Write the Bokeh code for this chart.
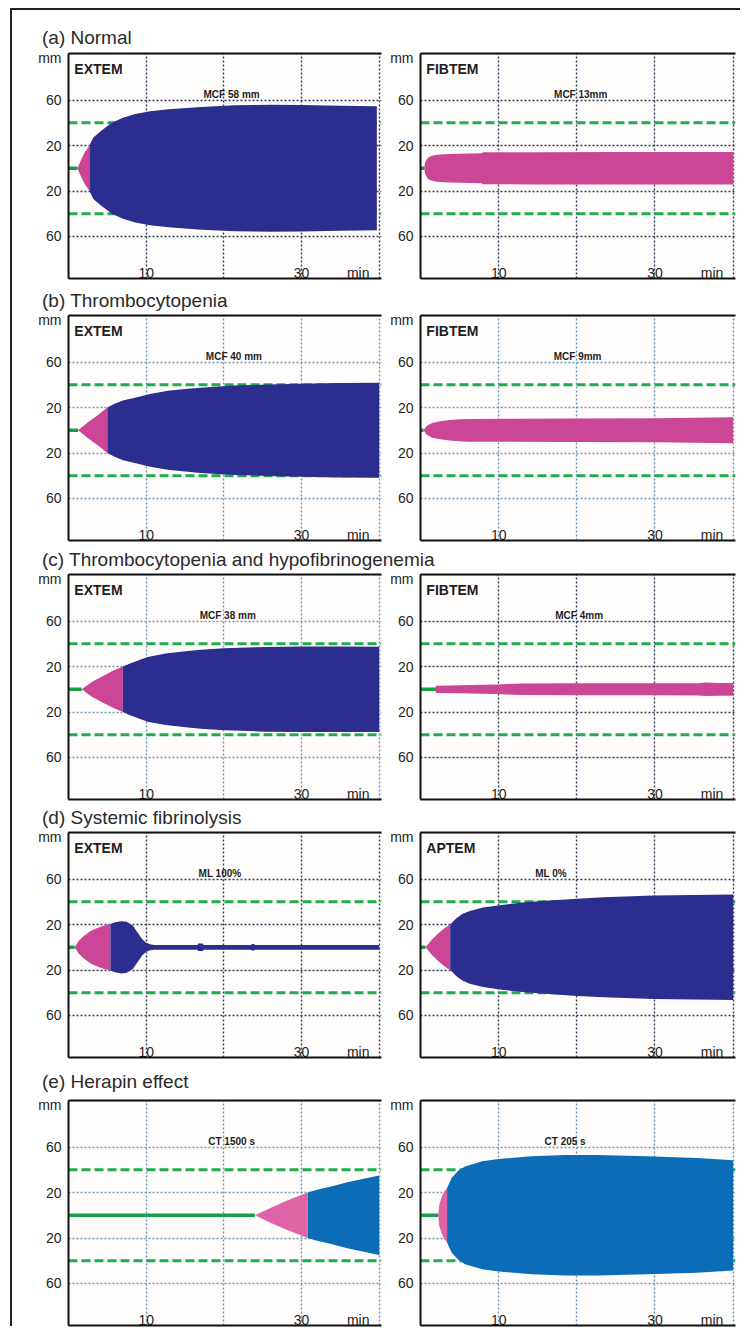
import numpy as np
from bokeh.plotting import figure
from bokeh.layouts import column, row
from bokeh.models import Range1d, FixedTicker, LinearAxis, Div, Spacer
from bokeh.core.properties import value
from bokeh.embed import file_html
from bokeh.resources import INLINE

# ---------------- data ----------------
row_titles = ["(a) Normal", "(b) Thrombocytopenia",
              "(c) Thrombocytopenia and hypofibrinogenemia",
              "(d) Systemic fibrinolysis", "(e) Herapin effect"]

y_ticks = [60, 20, -20, -60]
y_tick_labels = ["60", "20", "20", "60"]
y_unit_label = "mm"
x_grid_ticks = [10, 20, 30, 40]
x_tick_pos = [10, 30]
x_tick_labels = ["10", "30"]
x_unit_label = "min"
limit_lines = [40, -40]

# (a) Normal - EXTEM
a_ext_ct = 1.15
a_ext_pink_t = [1.15, 1.6, 2.1, 2.7]
a_ext_pink_a = [0, 7, 14, 20]
a_ext_blue_t = [2.7, 3.2, 4.3, 5.6, 7.0, 8.6, 10.5, 12.9, 17.1, 21.4, 26, 30, 35, 39.7]
a_ext_blue_a = [20, 27, 33.5, 40, 44.5, 47.7, 50.2, 52, 54, 55.4, 55.8, 55.6, 55, 54.5]
# (a) Normal - FIBTEM
a_fib_ct = 0.45
a_fib_pink_t = [0.45, 0.6, 0.8, 1.1, 1.5, 2.1, 3, 5, 7.8, 8.0, 15, 25, 40]
a_fib_pink_a = [0, 5, 8, 10, 11, 11.8, 12.3, 12.8, 13.2, 14, 14.2, 14.3, 14.3]

# (b) Thrombocytopenia - EXTEM
b_ext_ct = 1.25
b_ext_pink_t = [1.25, 2.5, 3.8, 5.0]
b_ext_pink_a = [0, 7, 13.5, 20]
b_ext_blue_t = [5.0, 6.0, 7.0, 8.4, 10.5, 12.8, 15, 17, 21.3, 25.6, 30, 35, 40]
b_ext_blue_a = [20, 23.5, 26.3, 28.5, 32, 34.7, 36.3, 37.5, 39.3, 40.2, 41, 41.5, 41.8]
# (b) FIBTEM
b_fib_ct = 0.4
b_fib_pink_t = [0.4, 0.8, 1.5, 2.5, 4, 6, 12, 20, 30, 35, 40]
b_fib_pink_a = [0, 4, 6.5, 8, 9.3, 10, 10.2, 10.3, 10.5, 11, 11.5]

# (c) EXTEM
c_ext_ct = 1.7
c_ext_pink_t = [1.7, 3.0, 4.5, 5.8, 7.0]
c_ext_pink_a = [0, 6.5, 12, 16.5, 20]
c_ext_blue_t = [7.0, 8.0, 10.2, 12.5, 14.5, 17, 20, 25.2, 30, 35, 40]
c_ext_blue_a = [20, 23, 28.5, 31.5, 33, 34.7, 36, 37.3, 37.7, 37.7, 37.5]
# (c) FIBTEM
c_fib_ct = 1.85
c_fib_pink_t = [1.85, 2.0, 5, 8, 10, 11, 13, 20, 30, 35.5, 36.5, 38, 40]
c_fib_pink_a = [0.8, 3.2, 3.6, 3.9, 4.1, 4.6, 5.0, 5.2, 5.3, 5.4, 6.0, 5.6, 5.6]

# (d) EXTEM (lysis)
d_ext_ct = 0.8
d_ext_pink_t = [0.8, 1.3, 1.9, 2.8, 3.7, 4.5, 5.4]
d_ext_pink_a = [0, 5.5, 9.5, 14, 17, 19, 20.5]
d_ext_blue_t = [5.4, 6.0, 6.8, 7.5, 8.3, 9.0, 9.5, 10.0, 10.5, 11.0, 16.6, 16.7, 17.3, 17.4,
                23.5, 23.6, 23.9, 24.0, 40]
d_ext_blue_a = [20.5, 22, 23, 22.5, 19, 12, 7, 4, 2.6, 2.1, 2.1, 3.3, 3.3, 2.1,
                2.1, 2.8, 2.8, 2.1, 2.1]
# (d) APTEM
d_apt_ct = 0.65
d_apt_pink_t = [0.65, 1.5, 2.4, 3.1, 3.8]
d_apt_pink_a = [0, 7, 13, 17, 20]
d_apt_blue_t = [3.8, 4.6, 5.4, 6.3, 8.0, 10.6, 13, 16, 20, 23.4, 29.8, 35, 40]
d_apt_blue_a = [20, 25.5, 29.5, 32, 35, 37.5, 39.3, 41, 42.8, 44, 45.5, 46, 46.5]

# (e) heparin - left
e_l_ct = 24
e_l_pink_t = [24, 26, 28, 30.8]
e_l_pink_a = [0, 6.5, 12.5, 20]
e_l_blue_t = [30.8, 32, 33.7, 35.9, 38, 40]
e_l_blue_a = [20, 22.5, 25, 29, 32.2, 35]
# (e) heparin - right
e_r_ct = 2.25
e_r_pink_t = [2.25, 2.4, 2.7, 3.0, 3.4]
e_r_pink_a = [0, 9, 16, 20.5, 24]
e_r_blue_t = [3.4, 4.0, 4.8, 5.7, 7.9, 10, 14.2, 18.5, 22.7, 29, 35.4, 40]
e_r_blue_a = [24, 33, 39, 43, 47.5, 49.5, 52, 53, 53, 52, 50.5, 48.5]

# ---------------- style ----------------
FONT = "Liberation Sans"
GREEN = "#17a04a"
DGREEN = "#22aa4e"
NAVY = "#2c2e8f"
BLUE_E = "#0b6db8"
PINK = "#cb4697"
PINK_E = "#e063a6"
GRID_DARK = "#2f3d57"
GRID_LIGHT = "#6f92b2"
INK = "#1e1e1e"

LEFT_W, RIGHT_W = 372, 354
PANEL_H = 233
Y_LO, Y_HI = -97, 101
X_HI = 40.3


def panel(side, name, note, note_x, ct, pink_t, pink_a, blue_t, blue_a,
          grid_color, blue_color=NAVY, pink_color=PINK):
    left = side == "left"
    p = figure(width=LEFT_W if left else RIGHT_W, height=PANEL_H,
               x_range=Range1d(0, X_HI), y_range=Range1d(Y_LO, Y_HI),
               output_backend="svg", toolbar_location=None,
               min_border_left=56 if left else 36, min_border_right=3,
               min_border_top=4, min_border_bottom=4)
    p.background_fill_color = "#fffdfc"
    p.border_fill_color = "white"
    p.outline_line_color = None

    xa = p.xaxis[0]
    xa.ticker = FixedTicker(ticks=[])
    xa.major_label_standoff = 0
    xa.major_tick_out = 0
    xa.major_tick_in = 0
    xa.minor_tick_out = 0
    xa.minor_tick_in = 0
    xa.axis_line_width = 2
    xa.axis_line_color = "#111111"
    p.xgrid[0].ticker = FixedTicker(ticks=x_grid_ticks)

    unit_tick = Y_HI - 0.1
    ya = p.yaxis[0]
    ya.ticker = FixedTicker(ticks=[unit_tick] + y_ticks)
    overrides = {t: l for t, l in zip(y_ticks, y_tick_labels)}
    overrides[unit_tick] = y_unit_label
    ya.major_label_overrides = overrides
    ya.major_label_text_font = FONT
    ya.major_label_text_font_size = "14px"
    ya.major_label_text_color = INK
    ya.major_label_standoff = 7
    ya.major_tick_out = 0
    ya.major_tick_in = 0
    ya.minor_tick_out = 0
    ya.minor_tick_in = 0
    ya.axis_line_width = 2
    ya.axis_line_color = "#111111"

    top = LinearAxis(ticker=FixedTicker(ticks=[]),
                     major_label_standoff=0, major_tick_out=0, major_tick_in=0,
                     minor_tick_out=0, minor_tick_in=0,
                     axis_line_width=2, axis_line_color="#111111")
    p.add_layout(top, "above")

    for g in (p.xgrid[0], p.ygrid[0]):
        g.grid_line_color = grid_color
        g.grid_line_dash = "2 2"
        g.grid_line_width = 1.4

    for lv in limit_lines:
        p.line([0, X_HI], [lv, lv], line_color=DGREEN, line_width=3, line_dash="9 4")
    p.line([0, ct], [0, 0], line_color=GREEN, line_width=3.5)

    pt = np.array(pink_t, dtype=float)
    pa = np.array(pink_a, dtype=float)
    p.varea(x=pt, y1=-pa, y2=pa, fill_color=pink_color)
    if blue_t is not None:
        bt = np.array(blue_t, dtype=float)
        ba = np.array(blue_a, dtype=float)
        p.varea(x=bt, y1=-ba, y2=ba, fill_color=blue_color)

    if name:
        p.text(x=[0.75], y=[94], text=[name], text_font=value(FONT),
               text_font_style="bold", text_font_size="14px", text_color=INK,
               text_baseline="top", text_align="left")
    p.text(x=[note_x], y=[65], text=[note], text_font=value(FONT),
           text_font_style="bold", text_font_size="10px", text_color=INK,
           text_baseline="alphabetic", text_align="center")
    p.text(x=x_tick_pos, y=[-91.8] * len(x_tick_pos), text=x_tick_labels,
           text_font=value(FONT), text_font_size="14px", text_color=INK,
           text_baseline="alphabetic", text_align="center")
    p.text(x=[37.3], y=[-91.8], text=[x_unit_label], text_font=value(FONT),
           text_font_size="14px", text_color=INK,
           text_baseline="alphabetic", text_align="center")
    return p


def title_div(text, h, base):
    pad = h - base - 16
    html = ('<div style="padding:%dpx 0 0 30px;font-family:\'Liberation Sans\';'
            'font-size:19px;line-height:19px;color:#2a2a2a;white-space:nowrap;">%s</div>'
            % (pad, text))
    return Div(text=html, width=LEFT_W + RIGHT_W, height=h, margin=(0, 0, 0, 0))


rows = []
rows.append(title_div(row_titles[0], 39, 5))
rows.append(row(
    panel("left", "EXTEM", "MCF 58 mm", 21, a_ext_ct, a_ext_pink_t, a_ext_pink_a,
          a_ext_blue_t, a_ext_blue_a, GRID_DARK),
    panel("right", "FIBTEM", "MCF 13mm", 20.5, a_fib_ct, a_fib_pink_t, a_fib_pink_a,
          None, None, GRID_DARK)))
rows.append(title_div(row_titles[1], 29, 4))
rows.append(row(
    panel("left", "EXTEM", "MCF 40 mm", 21.3, b_ext_ct, b_ext_pink_t, b_ext_pink_a,
          b_ext_blue_t, b_ext_blue_a, GRID_LIGHT),
    panel("right", "FIBTEM", "MCF 9mm", 20.1, b_fib_ct, b_fib_pink_t, b_fib_pink_a,
          None, None, GRID_LIGHT)))
rows.append(title_div(row_titles[2], 26, 4))
rows.append(row(
    panel("left", "EXTEM", "MCF 38 mm", 20.5, c_ext_ct, c_ext_pink_t, c_ext_pink_a,
          c_ext_blue_t, c_ext_blue_a, GRID_LIGHT),
    panel("right", "FIBTEM", "MCF 4mm", 20.3, c_fib_ct, c_fib_pink_t, c_fib_pink_a,
          None, None, GRID_DARK)))
rows.append(title_div(row_titles[3], 25, 4))
rows.append(row(
    panel("left", "EXTEM", "ML 100%", 19.5, d_ext_ct, d_ext_pink_t, d_ext_pink_a,
          d_ext_blue_t, d_ext_blue_a, GRID_DARK),
    panel("right", "APTEM", "ML 0%", 16.7, d_apt_ct, d_apt_pink_t, d_apt_pink_a,
          d_apt_blue_t, d_apt_blue_a, GRID_DARK)))
rows.append(title_div(row_titles[4], 35, 8))
rows.append(row(
    panel("left", "", "CT 1500 s", 21, e_l_ct, e_l_pink_t, e_l_pink_a,
          e_l_blue_t, e_l_blue_a, GRID_LIGHT, BLUE_E, PINK_E),
    panel("right", "", "CT 205 s", 18.5, e_r_ct, e_r_pink_t, e_r_pink_a,
          e_r_blue_t, e_r_blue_a, GRID_LIGHT, BLUE_E, PINK_E)))

main = column(*rows, spacing=0)
top_border = Div(text="", width=730, height=2, margin=(0, 0, 0, 0),
                 styles={"background-color": "#222222"})
left_border = Div(text="", width=2, height=1316, margin=(0, 0, 0, 0),
                  styles={"background-color": "#222222"})
layout = column(
    Spacer(width=10, height=8),
    row(Spacer(width=10, height=2), top_border, spacing=0),
    row(Spacer(width=10, height=10), left_border, main, spacing=0),
    spacing=0)

open("out.html", "w").write(file_html(layout, INLINE, "ROTEM"))
